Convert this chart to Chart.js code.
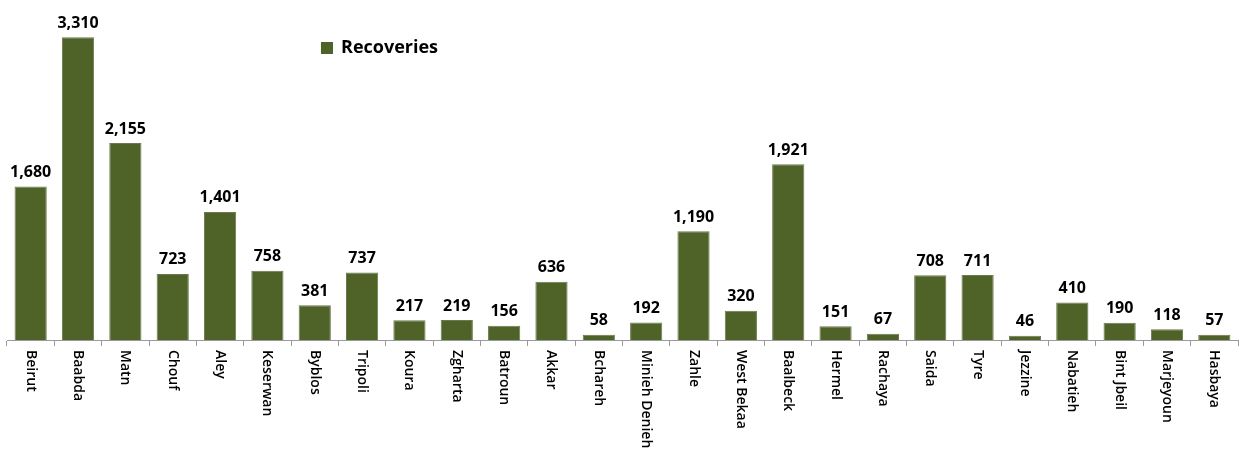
<!DOCTYPE html>
<html>
<head>
<meta charset="utf-8">
<script src="https://cdn.jsdelivr.net/npm/chart.js@4"></script>
<style>
  html, body { margin:0; padding:0; background:#fff; }
  #wrap { width:1242px; height:452px; }
</style>
</head>
<body>
<div id="wrap"><canvas id="grafica"></canvas></div>
<script>
var cazas = ['Beirut','Baabda','Matn','Chouf','Aley','Keserwan','Byblos','Tripoli','Koura','Zgharta','Batroun','Akkar','Bchareh','Minieh Denieh','Zahle','West Bekaa','Baalbeck','Hermel','Rachaya','Saida','Tyre','Jezzine','Nabatieh','Bint Jbeil','Marjeyoun','Hasbaya'];
var recuperados = [1680,3310,2155,723,1401,758,381,737,217,219,156,636,58,192,1190,320,1921,151,67,708,711,46,410,190,118,57];
var serieNombre = 'Recoveries';
var verde = '#4f6228';

// etiquetas de valor, nombres verticales y leyenda
const dibujarTextos = {
    id: 'dibujarTextos',
    afterDatasetsDraw(chart) {
        var ctx = chart.ctx;
        var meta = chart.getDatasetMeta(0);
        ctx.save();
        ctx.fillStyle = '#000';
        ctx.font = 'bold 16px "Open Sans"';
        ctx.textAlign = 'center';
        ctx.textBaseline = 'bottom';
        for (var i = 0; i < meta.data.length; i++) {
            var barra = meta.data[i];
            ctx.fillText(recuperados[i].toLocaleString('en-US'), barra.x, barra.y - 6);
        }
        var xScale = chart.scales.x;
        ctx.font = '600 14px "Open Sans"';
        ctx.fillStyle = '#000';
        ctx.textAlign = 'left';
        ctx.textBaseline = 'middle';
        for (var j = 0; j < cazas.length; j++) {
            ctx.save();
            ctx.translate(xScale.getPixelForTick(j), chart.chartArea.bottom + 10);
            ctx.rotate(Math.PI / 2);
            ctx.fillText(cazas[j], 0, 0);
            ctx.restore();
        }
        // leyenda
        ctx.fillStyle = verde;
        ctx.fillRect(321, 42, 12, 12);
        ctx.fillStyle = '#000';
        ctx.font = 'bold 18px "Open Sans"';
        ctx.textBaseline = 'middle';
        ctx.fillText(serieNombre, 341, 48);
        ctx.restore();
    }
};

var ctx = document.getElementById('grafica').getContext('2d');
var myChart = new Chart(ctx, {
    type: 'bar',
    data: {
        labels: cazas,
        datasets: [{
            label: serieNombre,
            data: recuperados,
            backgroundColor: verde,
            borderColor: '#6b7a4c',
            borderWidth: 1,
            barPercentage: 0.68,
            categoryPercentage: 1
        }]
    },
    options: {
        responsive: true,
        maintainAspectRatio: false,
        animation: false,
        layout: { padding: { left: 7, right: 4, top: 20, bottom: 0 } },
        scales: {
            x: {
                grid: {
                    drawOnChartArea: false,
                    drawTicks: true,
                    tickLength: 6,
                    color: '#9a9a9a',
                    offset: true
                },
                border: { display: true, color: '#9a9a9a', width: 1 },
                ticks: { display: false },
                afterFit: function(scale) { scale.height = 112; }
            },
            y: {
                display: false,
                min: 0,
                max: 3500
            }
        },
        plugins: {
            legend: { display: false },
            tooltip: { enabled: false }
        }
    },
    plugins: [dibujarTextos]
});
</script>
</body>
</html>
